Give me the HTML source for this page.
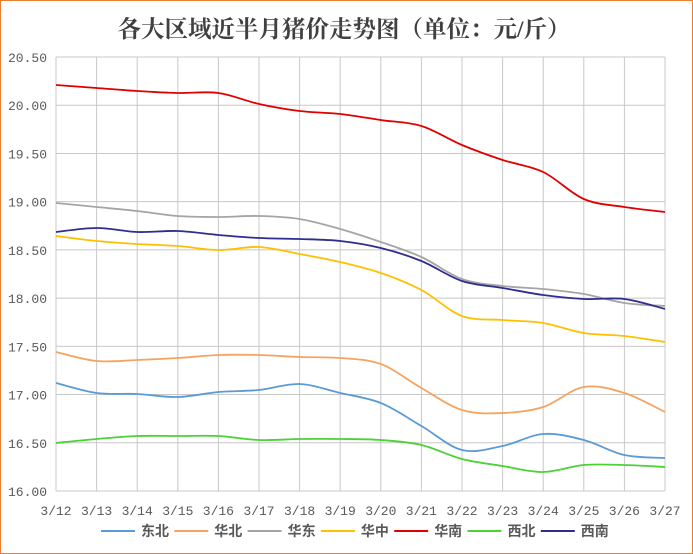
<!DOCTYPE html>
<html><head><meta charset="utf-8"><style>
html,body{margin:0;padding:0;background:#fff}
svg{display:block}
</style></head><body>
<svg id="c" width="693" height="554" xmlns="http://www.w3.org/2000/svg">
<rect x="0.5" y="0.5" width="692" height="553" fill="#fff" stroke="#ED7D31" stroke-width="1"/>
<text x="344" y="37" text-anchor="middle" font-family="'Liberation Serif','Noto Serif CJK SC',serif" font-size="23.5" font-weight="bold" fill="#404040">各大区域近半月猪价走势图（单位：元/斤）</text>
<g id="grid" stroke="#C8C8C8" stroke-width="1"></g>
<g id="lab" font-family="'Liberation Mono','Noto Sans CJK SC',monospace" font-size="13" fill="#595959"></g>
<g id="series" fill="none" stroke-width="1.8"></g>
<g id="leg" font-family="'Liberation Sans','Noto Sans CJK SC',sans-serif" font-size="14" font-weight="bold" fill="#595959"></g>
</svg>
<script>
var NS="http://www.w3.org/2000/svg";
function el(p,t,a,txt){var e=document.createElementNS(NS,t);for(var k in a)e.setAttribute(k,a[k]);if(txt!=null)e.textContent=txt;p.appendChild(e);return e;}
var L=56,R=665,T=57,B=491,dx=(R-L)/15,dy=(B-T)/9;
var g=document.getElementById('grid'),lab=document.getElementById('lab');
for(var i=0;i<=9;i++){var y=T+i*dy;el(g,'line',{x1:L,x2:R,y1:y,y2:y});
 el(lab,'text',{x:47,y:y+5,'text-anchor':'end'},(20.5-i*0.5).toFixed(2));}
for(var i=0;i<=15;i++){var x=L+i*dx;el(g,'line',{x1:x,x2:x,y1:T,y2:B});
 el(lab,'text',{x:x,y:515,'text-anchor':'middle'},'3/'+(12+i));}
var S=[
["东北","#5B9BD5",[383,393,394,397,392,390,384,393,403,426,450,446,434,440,455,458]],
["华北","#F4A460",[352,361,360,358,355,355,357,358,364,388,410,413,407,387,393,412]],
["华东","#A5A5A5",[203,207,211,216,217,216,219,229,242,257,279,286,289,294,303,306]],
["华中","#FFC000",[236,241,244,246,250,247,254,262,273,290,316,320,323,333,336,342]],
["华南","#E00000",[85,88,91,93,93,104,111,114,120,126,145,160,172,199,207,212]],
["西北","#4CD137",[443,439,436,436,436,440,439,439,440,445,459,466,472,465,465,467]],
["西南","#2E2E8F",[232,228,232,231,235,238,239,241,248,261,281,288,295,299,299,309]]];
var sg=document.getElementById('series'),lg=document.getElementById('leg');
S.forEach(function(s,k){var p=s[2].map(function(y,i){return [L+i*dx,y]});
 var d='M'+p[0][0]+','+p[0][1];
 for(var i=0;i<p.length-1;i++){var p0=p[i-1]||p[i],p1=p[i],p2=p[i+1],p3=p[i+2]||p2,t=6;
  d+=' C'+(p1[0]+(p2[0]-p0[0])/t)+','+(p1[1]+(p2[1]-p0[1])/t)+' '+(p2[0]-(p3[0]-p1[0])/t)+','+(p2[1]-(p3[1]-p1[1])/t)+' '+p2[0]+','+p2[1];}
 el(sg,'path',{d:d,stroke:s[1]});
 var lx=101+k*73.3;
 el(lg,'line',{x1:lx,x2:lx+34,y1:531,y2:531,stroke:s[1],'stroke-width':2});
 el(lg,'text',{x:lx+40,y:536},s[0]);});
</script>
</body></html>
